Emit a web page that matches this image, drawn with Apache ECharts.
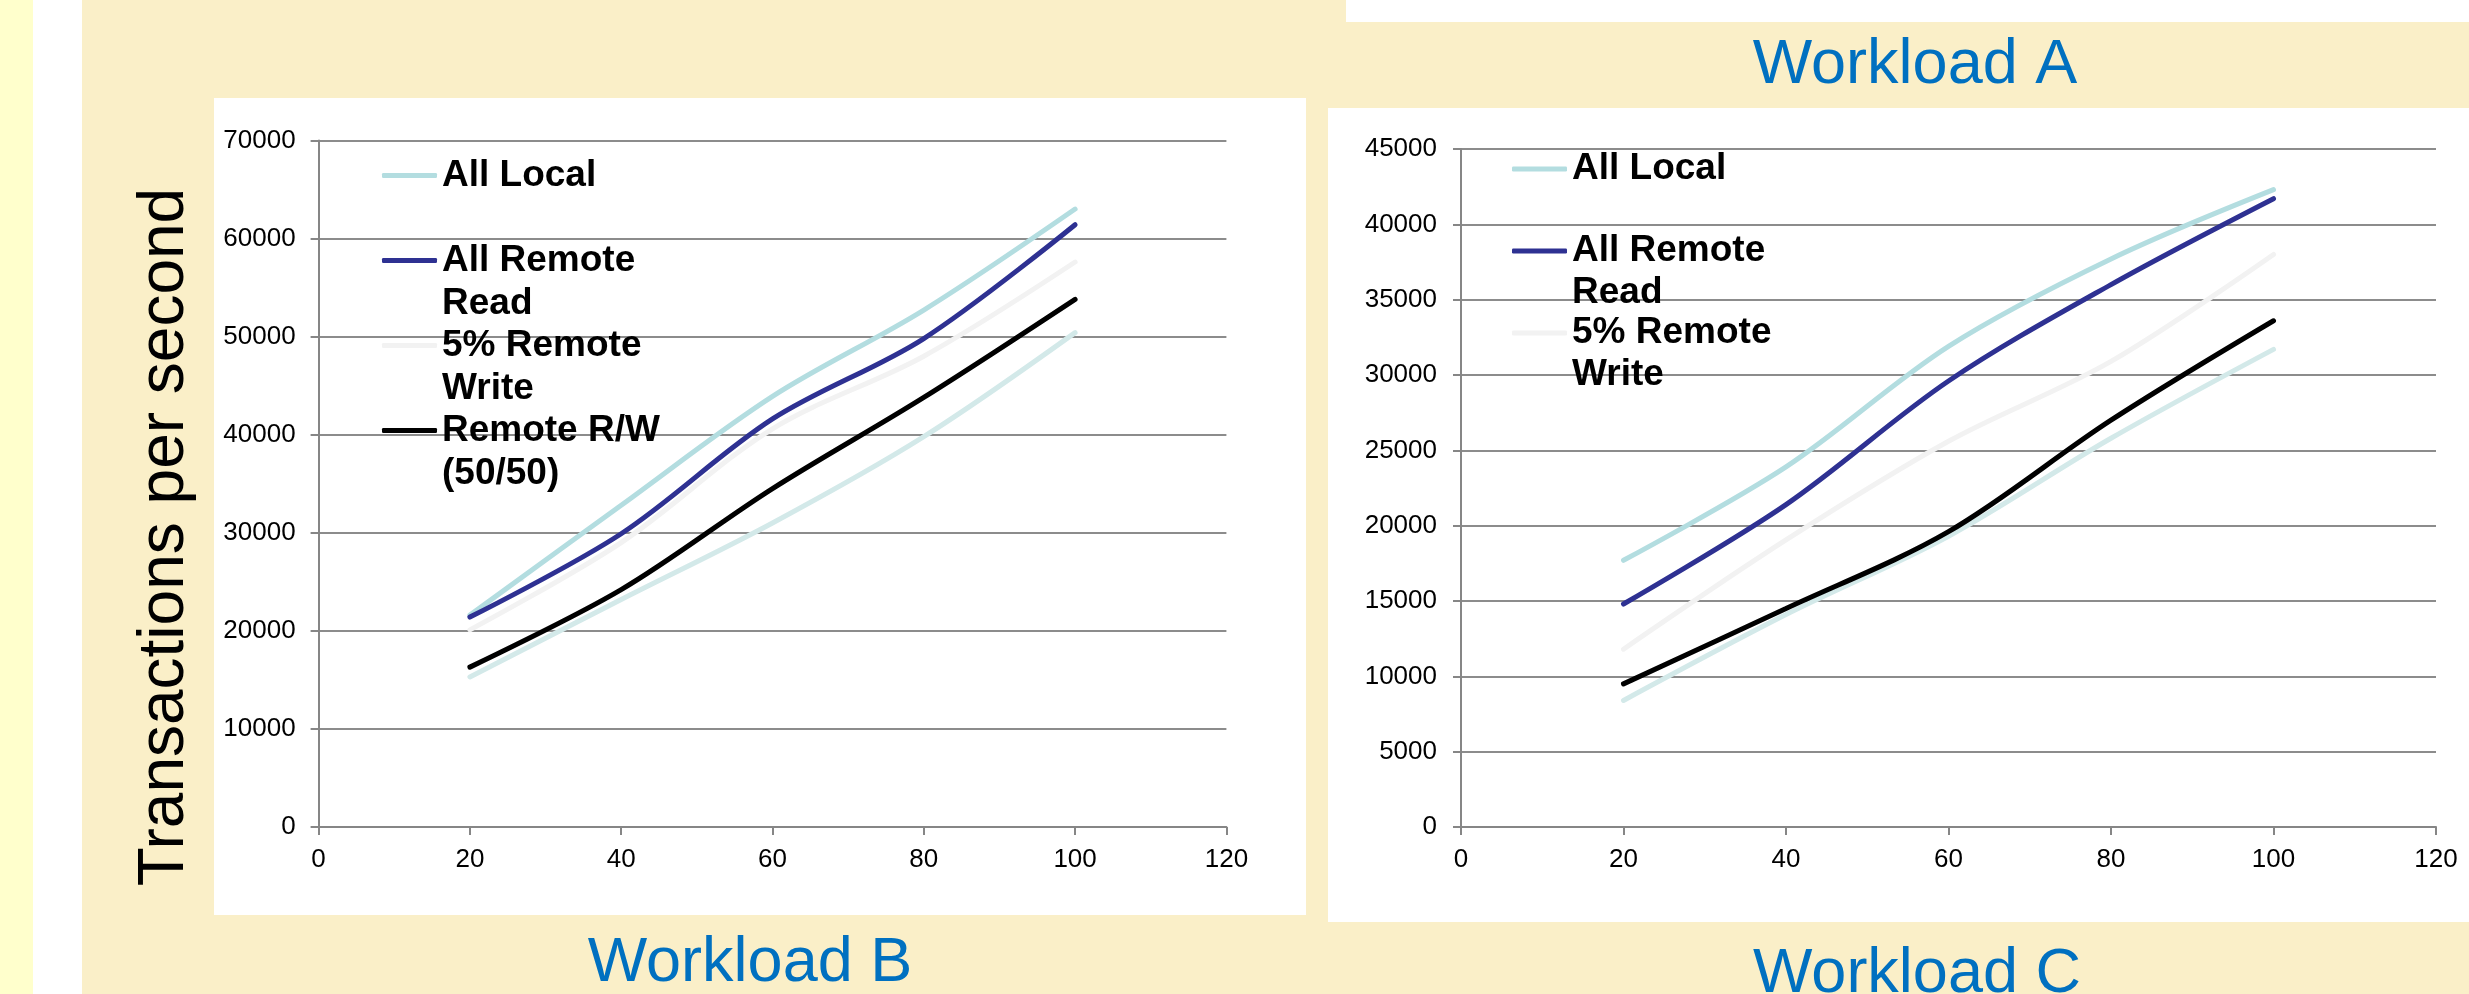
<!DOCTYPE html>
<html>
<head>
<meta charset="utf-8">
<script src="https://cdn.jsdelivr.net/npm/echarts@6/dist/echarts.min.js"></script>
<style>html,body{margin:0;padding:0;background:#fff}#c{width:2469px;height:994px}</style>
</head>
<body>
<div id="c"></div>
<script>
// ---- data ----
const xValues = [20, 40, 60, 80, 100];
const seriesNames = ['All Local', 'All Remote Read', '5% Remote Write', 'Remote R/W (50/50)', 'Series 5'];
const legendLabels = [' \nAll Local\n ', ' \nAll Remote\nRead', ' \n5% Remote\nWrite', ' \nRemote R/W\n(50/50)'];
const seriesColors = ['#B3DDE0', '#2E3192', '#F2F2F2', '#000000', '#D3E9E9'];

// Workload B (left chart)
const bAllLocal      = [21600, 32800, 43900, 52700, 63000];
const bAllRemoteRead = [21400, 29900, 41600, 49800, 61400];
const bRemoteWrite5  = [20100, 29000, 40600, 48000, 57600];
const bRemoteRW      = [16300, 24200, 34500, 43800, 53800];
const bSeries5       = [15300, 23200, 31000, 39800, 50400];

// Workload C (right chart)
const cAllLocal      = [17700, 23900, 31900, 37700, 42300];
const cAllRemoteRead = [14800, 21400, 29600, 36000, 41700];
const cRemoteWrite5  = [11800, 19050, 25600, 30900, 38000];
const cRemoteRW      = [9500, 14500, 19600, 27000, 33600];
const cSeries5       = [8400, 14100, 19300, 25800, 31700];

const bMaxY = 70000, bIntervalY = 10000;
const cMaxY = 45000, cIntervalY = 5000;
const xMax = 120, xInterval = 20;

const titleA = 'Workload A', titleB = 'Workload B', titleC = 'Workload C';
const yTitle = 'Transactions per second';

// ---- chart ----
const FONT = "'Liberation Sans', Arial, Helvetica, sans-serif";
const chart = echarts.init(document.getElementById('c'), null, {renderer: 'canvas'});

function xAxisDef(gi) {
  return {
    type: 'value', gridIndex: gi, min: 0, max: xMax, interval: xInterval,
    axisLine: {show: true, lineStyle: {color: '#868686', width: 2}},
    axisTick: {show: true, length: 8, lineStyle: {color: '#868686', width: 2}},
    axisLabel: {fontSize: 26, color: '#000', margin: 20, fontFamily: FONT},
    splitLine: {show: false}
  };
}
function yAxisDef(gi, max, interval, margin) {
  return {
    type: 'value', gridIndex: gi, min: 0, max: max, interval: interval,
    axisLine: {show: true, lineStyle: {color: '#868686', width: 2}},
    axisTick: {show: true, length: 8, lineStyle: {color: '#868686', width: 2}},
    axisLabel: {fontSize: 26, color: '#000', margin: margin, fontFamily: FONT, formatter: v => String(v)},
    splitLine: {show: true, lineStyle: {color: '#8C8C8C', width: 2}}
  };
}
function lineSeries(nameIdx, data, gi, z) {
  return {
    type: 'line', name: seriesNames[nameIdx], xAxisIndex: gi, yAxisIndex: gi,
    data: xValues.map((x, i) => [x, data[i]]),
    smooth: 0.33, symbol: 'none', showSymbol: false,
    lineStyle: {color: seriesColors[nameIdx], width: 5, cap: 'round'},
    itemStyle: {color: seriesColors[nameIdx]},
    emphasis: {disabled: true}, z: z
  };
}
function legendDef(left, top, names, lh, gap) {
  return {
    orient: 'vertical', left: left, top: top, padding: 0,
    data: names.map(n => ({name: n, icon: 'roundRect'})),
    itemWidth: 55, itemHeight: 5, itemGap: gap,
    selectedMode: false,
    itemStyle: {borderWidth: 0},
    formatter: n => legendLabels[seriesNames.indexOf(n)],
    textStyle: {fontSize: 37, fontWeight: 'bold', color: '#000', fontFamily: FONT, lineHeight: lh}
  };
}

const option = {
  animation: false,
  backgroundColor: '#ffffff',
  textStyle: {fontFamily: FONT},
  graphic: [
    {type: 'rect', shape: {x: 0, y: 0, width: 33, height: 994}, style: {fill: '#FFFFCC'}, z: -10},
    {type: 'rect', shape: {x: 82, y: 0, width: 2387, height: 994}, style: {fill: '#FAEFC8'}, z: -10},
    {type: 'rect', shape: {x: 1346, y: 0, width: 1123, height: 22}, style: {fill: '#FFFFFF'}, z: -9},
    {type: 'rect', shape: {x: 214, y: 98, width: 1092, height: 817}, style: {fill: '#FFFFFF'}, z: -9},
    {type: 'rect', shape: {x: 1328, y: 108, width: 1141, height: 814}, style: {fill: '#FFFFFF'}, z: -9},
    {type: 'text', x: 1915, y: 66, z: 5, style: {text: titleA, fontSize: 63, fontFamily: FONT, fill: '#0070C0', align: 'center', verticalAlign: 'middle'}},
    {type: 'text', x: 750, y: 964, z: 5, style: {text: titleB, fontSize: 63, fontFamily: FONT, fill: '#0070C0', align: 'center', verticalAlign: 'middle'}},
    {type: 'text', x: 1917, y: 975, z: 5, style: {text: titleC, fontSize: 63, fontFamily: FONT, fill: '#0070C0', align: 'center', verticalAlign: 'middle'}},
    {type: 'text', x: 165, y: 537, rotation: Math.PI / 2, z: 5, style: {text: yTitle, fontSize: 64, fontFamily: FONT, fill: '#000', align: 'center', verticalAlign: 'middle'}}
  ],
  grid: [
    {left: 318.6, top: 140.4, width: 907.8, height: 686.6, containLabel: false},
    {left: 1461, top: 149, width: 975, height: 678, containLabel: false}
  ],
  xAxis: [xAxisDef(0), xAxisDef(1)],
  yAxis: [yAxisDef(0, bMaxY, bIntervalY, 23), yAxisDef(1, cMaxY, cIntervalY, 24)],
  legend: [
    legendDef(382, 111, seriesNames.slice(0, 4), 43, -44),
    legendDef(1512, 106, seriesNames.slice(0, 3), 42, -44)
  ],
  series: [
    lineSeries(0, bAllLocal, 0, 3),
    lineSeries(1, bAllRemoteRead, 0, 3),
    lineSeries(2, bRemoteWrite5, 0, 3),
    lineSeries(4, bSeries5, 0, 3),
    lineSeries(3, bRemoteRW, 0, 3),
    lineSeries(0, cAllLocal, 1, 3),
    lineSeries(1, cAllRemoteRead, 1, 3),
    lineSeries(2, cRemoteWrite5, 1, 3),
    lineSeries(4, cSeries5, 1, 3),
    lineSeries(3, cRemoteRW, 1, 3)
  ]
};
chart.setOption(option);
</script>
</body>
</html>
